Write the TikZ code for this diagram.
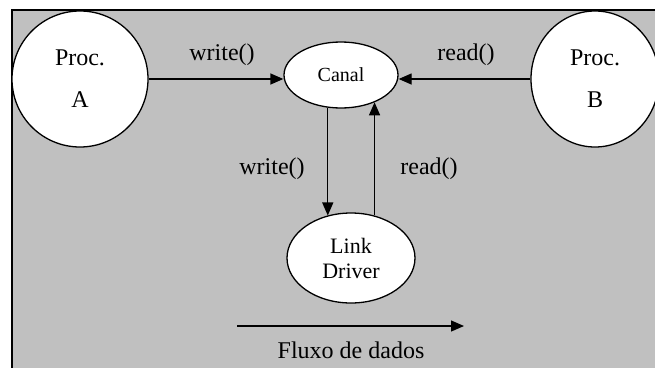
\documentclass[tikz,border=0pt]{standalone}
\usepackage{fontspec}
\setmainfont{Liberation Serif}
\usetikzlibrary{arrows.meta,shapes.geometric}
\definecolor{bggray}{HTML}{C0C0C0}
\tikzset{
  arr/.style={draw=black, line width=1.3pt, -{Triangle[length=13pt,width=11pt]}},
  proc/.style={ellipse, draw=black, line width=1.3pt, fill=white, inner sep=0pt, align=center,
               font=\fontsize{24}{42}\selectfont},
  oval/.style={ellipse, draw=black, line width=1.3pt, fill=white, inner sep=0pt, align=center},
  lbl/.style={inner sep=0pt, font=\fontsize{24}{28}\selectfont}
}
\begin{document}
\begin{tikzpicture}[x=1pt,y=-1pt]
\clip (0,0) rectangle (655,367);
\fill[bggray] (12,10) rectangle (660,370);
\draw[line width=1.6pt] (12,370) -- (12,10) -- (660,10);
\node[proc, minimum width=136pt, minimum height=136pt] (A) at (80,79) {Proc.\\A};
\node[proc, minimum width=128pt, minimum height=136pt] (B) at (595,79) {Proc.\\B};
\node[oval, minimum width=114pt, minimum height=66pt, font=\fontsize{20}{24}\selectfont] (C) at (341,75) {Canal};
\node[oval, minimum width=128pt, minimum height=90pt, font=\fontsize{22}{25}\selectfont] (L) at (351,258) {Link\\Driver};
\draw[arr] (A.east) -- (A.east -| C.west);
\draw[arr] (B.west) -- (B.west -| C.east);
\draw[arr] (C.-112) -- (C.-112 |- L.119);
\draw[arr] (L.61) -- (L.61 |- C.-39);
\node[lbl] (w1) at (222,55) {write()};
\node[lbl] (r1) at (466,55) {read()};
\node[lbl] (w2) at (272,169) {write()};
\node[lbl] (r2) at (429,169) {read()};
\coordinate (f1) at (237,326);
\coordinate (f2) at (464,326);
\draw[arr] (f1) -- (f2);
\node[lbl] (fl) at (351,350) {Fluxo de dados};
\end{tikzpicture}
\end{document}
